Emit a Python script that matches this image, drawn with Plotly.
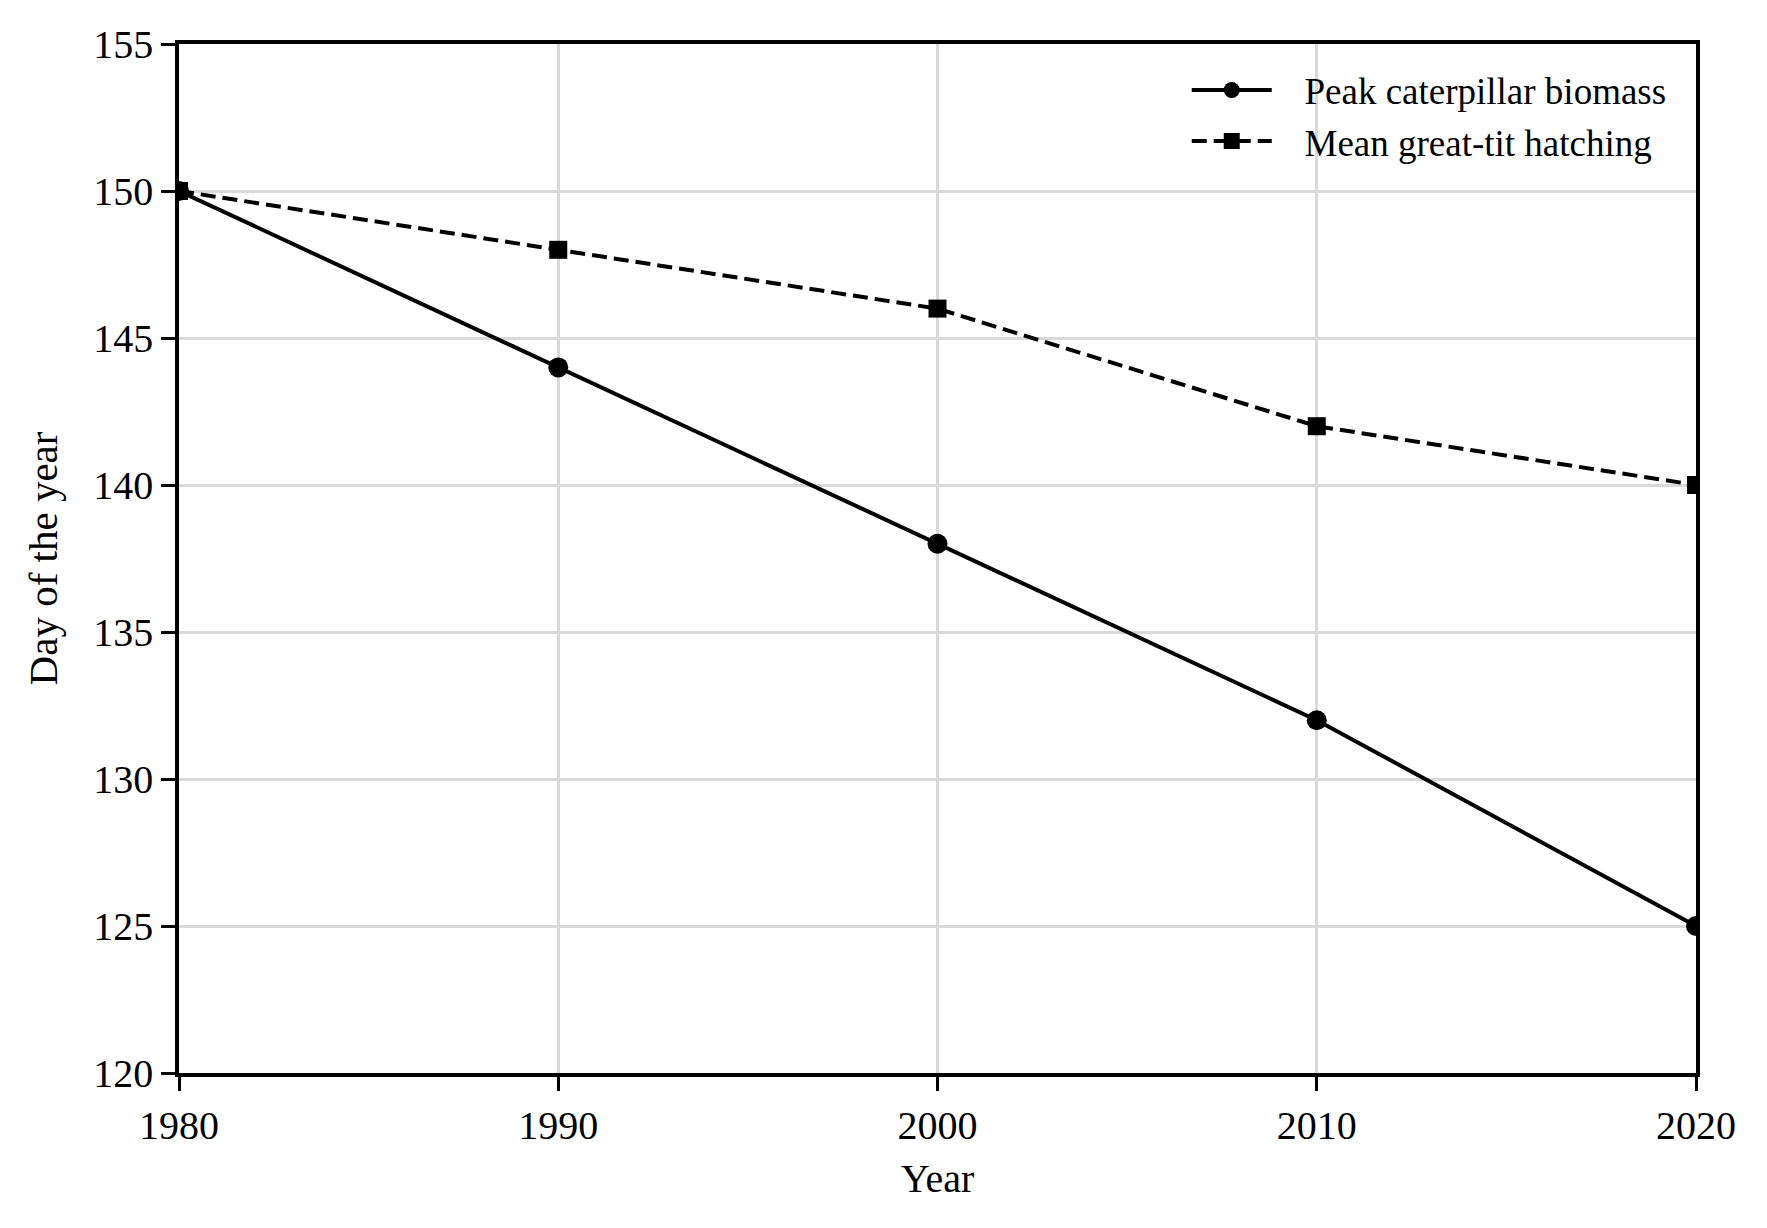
import plotly.graph_objects as go

# Data
years = [1980, 1990, 2000, 2010, 2020]
caterpillar_peak = [150, 144, 138, 132, 125]
tit_hatching = [150, 148, 146, 142, 140]

x_ticks = [1980, 1990, 2000, 2010, 2020]
y_ticks = [120, 125, 130, 135, 140, 145, 150, 155]

FONT = "Liberation Serif, Times New Roman, serif"
GAP = "\u00a0\u00a0\u00a0"  # room between legend symbol and label

fig = go.Figure()

# Solid line with circles
fig.add_trace(go.Scatter(
    x=years,
    y=caterpillar_peak,
    mode="lines+markers",
    name=GAP + "Peak caterpillar biomass",
    line=dict(color="black", width=4),
    marker=dict(symbol="circle", size=20, color="black"),
))

# Dashed line with squares
fig.add_trace(go.Scatter(
    x=years,
    y=tit_hatching,
    mode="lines+markers",
    name=GAP + "Mean great-tit hatching",
    line=dict(color="black", width=4, dash="15px,7px"),
    marker=dict(symbol="square", size=18, color="black"),
))

# page body has an 8px margin, so the figure is trimmed by that much
fig.update_layout(
    width=1759,
    height=1220,
    margin=dict(l=171, r=71, t=36, b=155),
    paper_bgcolor="white",
    plot_bgcolor="white",
    font=dict(family=FONT, size=40, color="black"),
    showlegend=True,
    legend=dict(
        x=0.984,
        y=0.985,
        xanchor="right",
        yanchor="top",
        bgcolor="rgba(255,255,255,0)",
        font=dict(family=FONT, size=37, color="black"),
        itemwidth=80,
        tracegroupgap=0,
    ),
)

fig.update_xaxes(
    range=[1980, 2020],
    tickvals=x_ticks,
    ticktext=[str(v) for v in x_ticks],
    showgrid=True,
    gridcolor="#d9d9d9",
    gridwidth=2.5,
    showline=True,
    linecolor="black",
    linewidth=3.5,
    mirror=True,
    ticks="outside",
    ticklen=14,
    tickwidth=3,
    tickcolor="black",
    zeroline=False,
    title=dict(text="Year", standoff=18, font=dict(size=40)),
    tickfont=dict(size=40),
)

fig.update_yaxes(
    range=[120, 155],
    tickvals=y_ticks,
    showgrid=True,
    gridcolor="#d9d9d9",
    gridwidth=2.5,
    showline=True,
    linecolor="black",
    linewidth=3.5,
    mirror=True,
    ticks="outside",
    ticklen=14,
    tickwidth=3,
    tickcolor="black",
    zeroline=False,
    title=dict(text="Day of the year", standoff=24, font=dict(size=41)),
    tickfont=dict(size=40),
)

fig.write_html("out.html")
